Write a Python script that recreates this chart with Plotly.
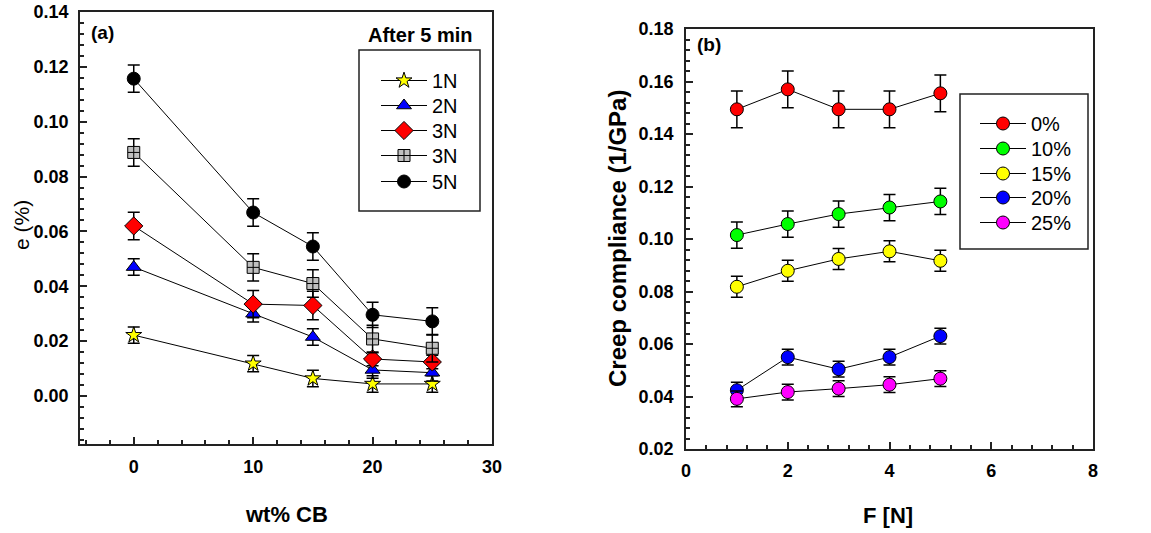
import plotly.graph_objects as go

FONT = "Arial, Liberation Sans, sans-serif"
W, H = 1151, 533

# ---- Panel (a): strain after 5 min vs carbon black content ----
wt_cb = [0, 10, 15, 20, 25]
e_1N = [0.0222, 0.0118, 0.0064, 0.0044, 0.0044]
e_1N_err = [0.003, 0.003, 0.003, 0.003, 0.003]
e_2N = [0.0470, 0.0300, 0.0215, 0.0095, 0.0085]
e_2N_err = [0.003, 0.003, 0.003, 0.003, 0.003]
e_3N = [0.0620, 0.0335, 0.0330, 0.0135, 0.0124]
e_3N_err = [0.005, 0.005, 0.0052, 0.0025, 0.0025]
e_4N = [0.0888, 0.0469, 0.0410, 0.0208, 0.0174]
e_4N_err = [0.005, 0.005, 0.005, 0.005, 0.005]
e_5N = [0.1157, 0.0669, 0.0545, 0.0296, 0.0272]
e_5N_err = [0.005, 0.005, 0.005, 0.0046, 0.005]
labels_a = ["1N", "2N", "3N", "3N", "5N"]

# ---- Panel (b): creep compliance vs applied force ----
force = [1, 2, 3, 4, 5]
c_0 = [0.1494, 0.1570, 0.1494, 0.1494, 0.1555]
c_0_err = [0.007, 0.007, 0.007, 0.007, 0.007]
c_10 = [0.1015, 0.1057, 0.1095, 0.1120, 0.1143]
c_10_err = [0.005, 0.005, 0.005, 0.005, 0.005]
c_15 = [0.0818, 0.0879, 0.0924, 0.0953, 0.0917]
c_15_err = [0.004, 0.004, 0.004, 0.004, 0.004]
c_20 = [0.0424, 0.0550, 0.0504, 0.0550, 0.0630]
c_20_err = [0.003, 0.003, 0.003, 0.003, 0.003]
c_25 = [0.0391, 0.0417, 0.0430, 0.0445, 0.0468]
c_25_err = [0.003, 0.003, 0.003, 0.003, 0.003]
labels_b = ["0%", "10%", "15%", "20%", "25%"]

fig = go.Figure()
legend_layout = {}


def one_row_legend(key, x_px, row_px):
    """A single-entry legend placed so its row is centred on row_px."""
    legend_layout[key] = dict(
        x=x_px / W, y=1 - (row_px - 19) / H, xanchor="left", yanchor="top",
        bgcolor="rgba(0,0,0,0)", borderwidth=0, itemwidth=46,
        font=dict(family=FONT, size=20, color="black"),
    )


series_a = [
    (e_1N, e_1N_err, "star", "#ffff00", 12),
    (e_2N, e_2N_err, "triangle-up", "#0000ff", 13),
    (e_3N, e_3N_err, "diamond", "#ff0000", 14),
    (e_4N, e_4N_err, "square-cross", "#c0c0c0", 12),
    (e_5N, e_5N_err, "circle", "#000000", 13),
]
rows_a = [80, 105, 130, 155, 181]
for i, ((vals, errs, sym, col, sz), name) in enumerate(zip(series_a, labels_a)):
    key = "legend" if i == 0 else f"legend{i + 1}"
    one_row_legend(key, 376, rows_a[i])
    fig.add_trace(go.Scatter(
        x=wt_cb, y=vals, name=name, mode="lines+markers",
        xaxis="x", yaxis="y", legend=key,
        line=dict(color="black", width=1),
        marker=dict(symbol=sym, size=sz, color=col,
                    line=dict(color="black", width=1)),
        error_y=dict(type="data", array=errs, visible=True,
                     color="black", thickness=1.5, width=6),
    ))

series_b = [
    (c_0, c_0_err, "#ff0000"),
    (c_10, c_10_err, "#00ff00"),
    (c_15, c_15_err, "#ffff00"),
    (c_20, c_20_err, "#0000ff"),
    (c_25, c_25_err, "#ff00ff"),
]
rows_b = [123, 148, 173, 197, 222]
for i, ((vals, errs, col), name) in enumerate(zip(series_b, labels_b)):
    key = f"legend{i + 6}"
    one_row_legend(key, 975, rows_b[i])
    fig.add_trace(go.Scatter(
        x=force, y=vals, name=name, mode="lines+markers",
        xaxis="x2", yaxis="y2", legend=key,
        line=dict(color="black", width=1),
        marker=dict(symbol="circle", size=13, color=col,
                    line=dict(color="black", width=1)),
        error_y=dict(type="data", array=errs, visible=True,
                     color="black", thickness=1.5, width=6),
    ))

tick_font = dict(family=FONT, size=18, color="black", weight="bold")
axis_common = dict(
    showgrid=False, zeroline=False, showline=True, linecolor="#222",
    linewidth=1.5, mirror=True, ticks="inside", ticklen=7, tickwidth=1.5,
    tickcolor="#222", tickfont=tick_font, automargin=False,
)
minor_common = dict(ticks="inside", ticklen=4, tickcolor="#222", tickwidth=1.5)


def label(text, x_px, y_px, size, bold=True, angle=0):
    return dict(text=text, xref="paper", yref="paper", x=x_px / W,
                y=1 - y_px / H, xanchor="center", yanchor="middle",
                showarrow=False, textangle=angle,
                font=dict(family=FONT, size=size, color="black",
                          weight="bold" if bold else "normal"))


fig.update_layout(
    width=W, height=H,
    margin=dict(l=0, r=0, t=0, b=0),
    paper_bgcolor="white", plot_bgcolor="white",
    font=dict(family=FONT, color="black"),
    xaxis=dict(domain=[80 / W, 492 / W], range=[-4.5, 30], dtick=10,
               tick0=0, anchor="y", ticklabelstandoff=6,
               minor=dict(dtick=2, tick0=0, **minor_common), **axis_common),
    yaxis=dict(domain=[1 - 444 / H, 1 - 12 / H], range=[-0.0175, 0.14],
               dtick=0.02, tick0=0, tickformat=".2f", anchor="x",
               ticklabelstandoff=6,
               minor=dict(dtick=0.004, tick0=0, **minor_common), **axis_common),
    xaxis2=dict(domain=[686 / W, 1093 / W], range=[0, 8], dtick=2,
                tick0=0, anchor="y2", ticklabelstandoff=5,
                minor=dict(dtick=0.4, tick0=0, **minor_common), **axis_common),
    yaxis2=dict(domain=[1 - 449 / H, 1 - 29 / H], range=[0.02, 0.18],
                dtick=0.02, tick0=0, tickformat=".2f", anchor="x2",
                ticklabelstandoff=7,
                minor=dict(dtick=0.004, tick0=0, **minor_common), **axis_common),
    showlegend=True,
    shapes=[
        dict(type="rect", xref="paper", yref="paper",
             x0=359 / W, x1=480 / W, y0=1 - 211 / H, y1=1 - 50 / H,
             line=dict(color="#222", width=1.5)),
        dict(type="rect", xref="paper", yref="paper",
             x0=960 / W, x1=1088 / W, y0=1 - 249 / H, y1=1 - 94 / H,
             line=dict(color="#222", width=1.5)),
    ],
    annotations=[
        label("After 5 min", 420, 35, 20),
        label("(a)", 102, 32, 19),
        label("(b)", 709, 44, 19),
        label("wt% CB", 286, 514, 22),
        label("F [N]", 888, 515, 22),
        label("e (%)", 21, 225, 21, bold=False, angle=-90),
        label("Creep compliance (1/GPa)", 617, 239, 24, angle=-90),
    ],
    **legend_layout,
)

fig.write_html("out.html")
